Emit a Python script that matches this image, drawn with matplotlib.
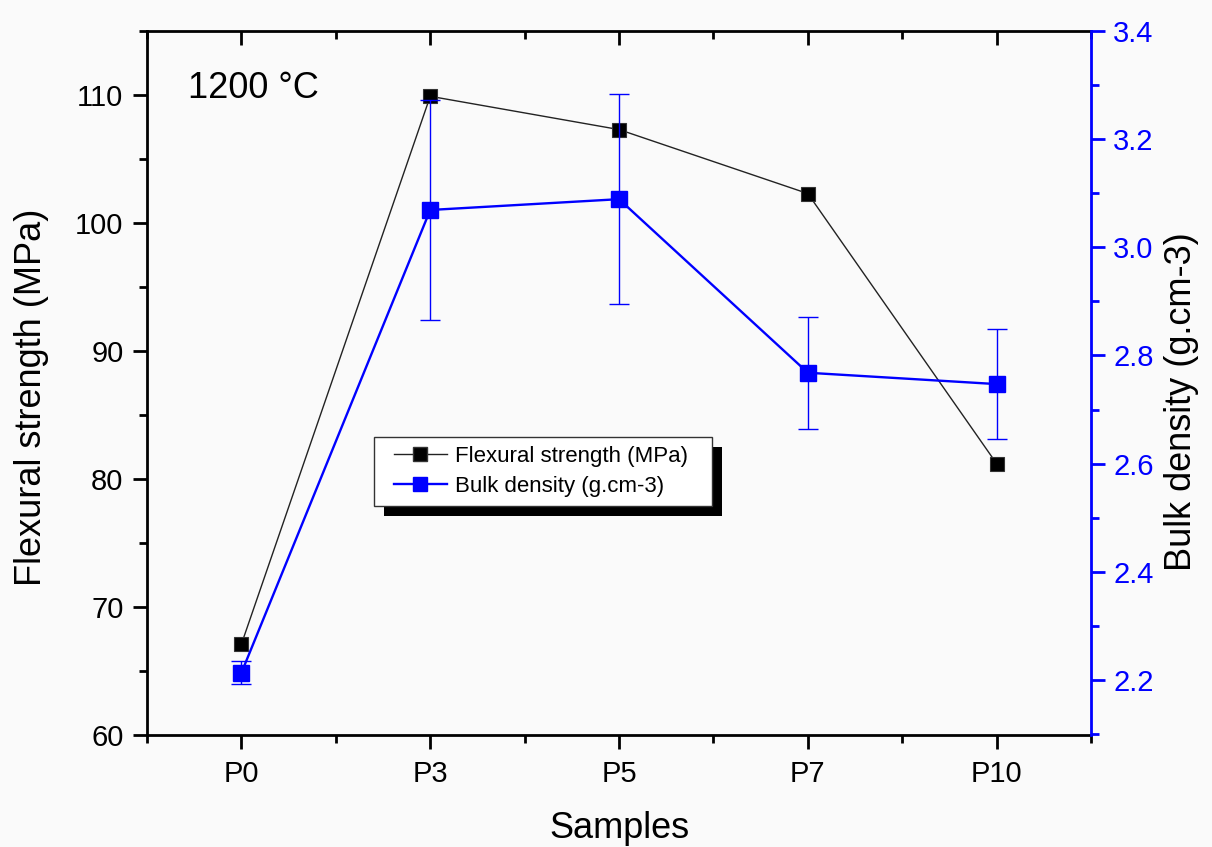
import matplotlib
matplotlib.use("Agg")
import matplotlib.pyplot as plt
from matplotlib.ticker import MultipleLocator
from matplotlib.patches import Rectangle
from matplotlib.lines import Line2D

samples = ["P0", "P3", "P5", "P7", "P10"]
flexural = [67.1, 109.9, 107.3, 102.3, 81.2]
density = [2.213, 3.069, 3.089, 2.768, 2.747]
density_err = [0.021, 0.203, 0.194, 0.104, 0.102]

plt.rcParams["font.family"] = ["Liberation Sans", "DejaVu Sans"]
BLUE = "#0000ff"
BG = "#fafafa"

fig = plt.figure(figsize=(12.12, 8.47), dpi=100, facecolor=BG)
ax = fig.add_axes([0.1213, 0.1322, 0.7789, 0.8312])
ax.set_facecolor(BG)
ax2 = ax.twinx()

x = list(range(len(samples)))

ax.plot(x, flexural, color="#222222", lw=1.0, marker="s", ms=10.5,
        mfc="black", mec="#333333", mew=0.8, zorder=3)
ax2.errorbar(x, density, yerr=density_err, color=BLUE, lw=1.7, marker="s",
             ms=11, mfc=BLUE, mec=BLUE, ecolor=BLUE, elinewidth=1.0,
             capsize=7, capthick=1.0, zorder=3)

# axes limits and ticks
ax.set_xlim(-0.5, len(samples) - 0.5)
ax.set_ylim(60, 115)
ax2.set_ylim(2.098, 3.4)
ax.set_xticks(x)
ax.set_xticklabels(samples)
ax.xaxis.set_minor_locator(MultipleLocator(0.5))
ax.yaxis.set_major_locator(MultipleLocator(10))
ax.yaxis.set_minor_locator(MultipleLocator(5))
ax2.yaxis.set_minor_locator(MultipleLocator(0.1))
ax2.set_yticks([2.2, 2.4, 2.6, 2.8, 3.0, 3.2, 3.4])
ax2.set_yticklabels(["2.2", "2.4", "2.6", "2.8", "3.0", "3.2", "3.4"])

for sp in ["left", "bottom", "top"]:
    ax.spines[sp].set_linewidth(2.0)
    ax.spines[sp].set_color("black")
ax.spines["right"].set_visible(False)
for sp in ["left", "bottom", "top"]:
    ax2.spines[sp].set_visible(False)
ax2.spines["right"].set_linewidth(2.0)
ax2.spines["right"].set_color(BLUE)

ax.tick_params(axis="x", which="major", direction="out", length=10, width=2,
               labelsize=21, pad=8, top=True)
ax.tick_params(axis="x", which="minor", direction="out", length=6, width=2,
               top=True)
ax.tick_params(axis="y", which="major", direction="out", length=10, width=2,
               labelsize=21, pad=7, right=False)
ax.tick_params(axis="y", which="minor", direction="out", length=6, width=2,
               right=False)
# the top axis carries inward ticks
for t in ax.xaxis.get_major_ticks() + ax.xaxis.get_minor_ticks():
    t.tick2line.set_marker(matplotlib.lines.TICKDOWN)
ax2.tick_params(axis="y", which="major", direction="out", length=10, width=2,
                colors=BLUE, labelsize=21, pad=6)
ax2.tick_params(axis="y", which="minor", direction="out", length=6, width=2,
                colors=BLUE)

ax.set_xlabel("Samples", fontsize=26)
ax.set_ylabel("Flexural strength (MPa)", fontsize=26)
ax2.set_ylabel("Bulk density (g.cm-3)", fontsize=26, color="black")
ax.xaxis.set_label_coords(0.5, -0.108)
ax.yaxis.set_label_coords(-0.104, 0.479)
ax2.yaxis.set_label_coords(1.077, 0.474)

ax.text(0.0434, 0.905, "1200 °C", transform=ax.transAxes, fontsize=26,
        va="baseline", ha="left")

handles = [
    Line2D([], [], color="#222222", lw=1.0, marker="s", ms=10, mfc="black",
           mec="#333333"),
    Line2D([], [], color=BLUE, lw=1.7, marker="s", ms=10, mfc=BLUE, mec=BLUE),
]
leg = ax2.legend(handles, ["Flexural strength (MPa)", "Bulk density (g.cm-3)"],
                 loc="upper left", bbox_to_anchor=(0.252, 0.423),
                 fontsize=16, frameon=True, fancybox=False, framealpha=0,
                 edgecolor="none", facecolor="none", handlelength=2.4,
                 handletextpad=0.35, borderpad=0.4, labelspacing=0.4,
                 borderaxespad=0)
leg.set_zorder(6)

# legend box with a solid drop shadow
fig.canvas.draw()
bb = leg.get_frame().get_window_extent(fig.canvas.get_renderer())
inv = ax2.transAxes.inverted()
padx = 11
(bx0, by0) = inv.transform((bb.x0 - padx, bb.y0))
(bx1, by1) = inv.transform((bb.x1 + padx + 4, bb.y1))
(sx0, sy0) = inv.transform((bb.x0 - padx + 10, bb.y0 - 10))
(sx1, sy1) = inv.transform((bb.x1 + padx + 14, bb.y1 - 10))
ax2.add_patch(Rectangle((sx0, sy0), sx1 - sx0, sy1 - sy0,
                        transform=ax2.transAxes, facecolor="black",
                        edgecolor="none", zorder=5.4, clip_on=False))
ax2.add_patch(Rectangle((bx0, by0), bx1 - bx0, by1 - by0,
                        transform=ax2.transAxes, facecolor="white",
                        edgecolor="#333333", lw=1.0, zorder=5.5,
                        clip_on=False))

fig.savefig("out.png", dpi=100, facecolor=BG)
